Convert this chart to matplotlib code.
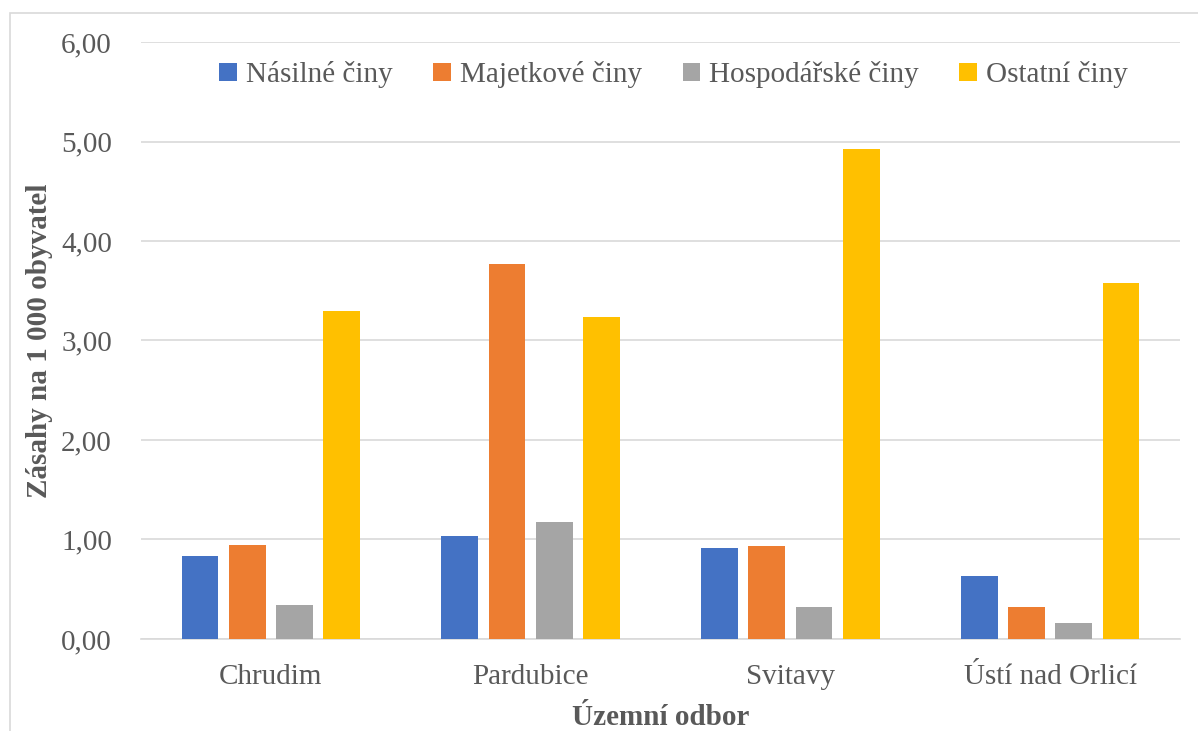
import matplotlib.pyplot as plt
import numpy as np
from matplotlib.patches import Rectangle

plt.rcParams['font.family'] = ['Liberation Serif', 'DejaVu Serif']

odbory = ["Chrudim", "Pardubice", "Svitavy", "Ústí nad Orlicí"]
nasilne = [0.83, 1.03, 0.91, 0.63]
majetkove = [0.94, 3.77, 0.93, 0.32]
hospodarske = [0.34, 1.18, 0.32, 0.16]
ostatni = [3.30, 3.24, 4.92, 3.58]

series = [("Násilné činy", nasilne, "#4472C4"),
          ("Majetkové činy", majetkove, "#ED7D31"),
          ("Hospodářské činy", hospodarske, "#A5A5A5"),
          ("Ostatní činy", ostatni, "#FFC000")]

txt = "#595959"
fs = 21
fig = plt.figure(figsize=(11.98, 7.31), dpi=100)
ax = fig.add_axes([141/1198, 0.1259, 1039/1198, 0.8166])

# outer chart border
fig.patches.append(Rectangle((10/1198, -0.05), 1.1, 1 - 13/731 + 0.05,
                             transform=fig.transFigure, fill=False,
                             edgecolor="#D9D9D9", linewidth=1.2))

x = np.arange(len(odbory))
w = 0.142
step = 0.182
for i, (name, vals, col) in enumerate(series):
    ax.bar(x + (i - 1.5) * step, vals, w, color=col, label=name, zorder=3)

ax.set_xlim(-0.5, 3.5)
ax.set_ylim(0, 6)
ax.set_yticks(np.arange(0, 7, 1))
ax.set_yticklabels([f"{v:.2f}".replace(".", ",") for v in np.arange(0, 7, 1)])
ax.set_xticks(x)
ax.set_xticklabels(odbory)
ax.grid(axis="y", color="#D9D9D9", linewidth=1.2, zorder=0)
for s in ["top", "right", "left"]:
    ax.spines[s].set_visible(False)
ax.spines["bottom"].set_color("#D9D9D9")
ax.spines["bottom"].set_linewidth(1.2)
ax.tick_params(length=0, labelsize=fs, labelcolor=txt)
ax.tick_params(axis="y", pad=21)
ax.tick_params(axis="x", pad=18)

ax.set_ylabel("Zásahy na 1 000 obyvatel", fontsize=fs, fontweight="bold", color=txt, labelpad=6)
ax.set_xlabel("Územní odbor", fontsize=fs, fontweight="bold", color=txt, labelpad=10)

ax.legend(loc="upper center", bbox_to_anchor=(0.5125, 1.012), ncol=4, frameon=False,
          fontsize=fs, labelcolor=txt, handlelength=0.6, handleheight=0.6,
          handletextpad=0.3, columnspacing=1.4)

fig.savefig("out.png", dpi=100)
